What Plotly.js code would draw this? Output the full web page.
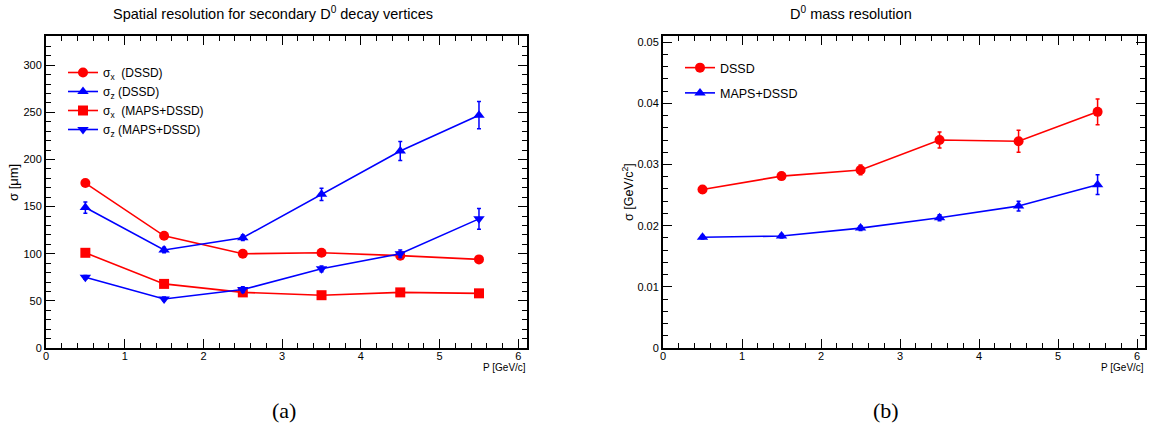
<!DOCTYPE html>
<html>
<head>
<meta charset="utf-8">
<script src="https://cdn.plot.ly/plotly-3.0.1.min.js"></script>
<style>html,body{margin:0;padding:0;background:#fff;}#chart{width:1151px;height:429px;}</style>
</head>
<body>
<div id="chart"></div>
<script>
// ---- data (a): spatial resolution [um] vs P [GeV/c]
var momentum = [0.5, 1.5, 2.5, 3.5, 4.5, 5.5];
var sigmaX_DSSD = [175, 119, 100, 101, 98, 94];
var sigmaX_DSSD_err = [3, 2, 2, 2, 3, 3];
var sigmaZ_DSSD = [149, 104, 117, 163, 209, 247];
var sigmaZ_DSSD_err = [6, 3, 3, 6.5, 10, 14.5];
var sigmaX_MAPS = [101, 68, 59, 56, 59, 58];
var sigmaX_MAPS_err = [2, 2, 2, 2, 2, 2];
var sigmaZ_MAPS = [75, 52, 62, 84, 100, 137];
var sigmaZ_MAPS_err = [2, 2, 3, 3, 4, 11];
// ---- data (b): D0 mass resolution [GeV/c^2] vs P
var mass_DSSD = [0.0259, 0.0281, 0.0291, 0.0340, 0.0338, 0.0386];
var mass_DSSD_err = [0.0006, 0.0004, 0.0008, 0.0013, 0.0018, 0.0021];
var mass_MAPS = [0.0181, 0.0183, 0.0196, 0.0213, 0.0232, 0.0267];
var mass_MAPS_err = [0.0003, 0.0003, 0.0004, 0.0005, 0.0008, 0.0016];

var RED = '#ff0000', BLUE = '#0000ff';
var FONT = 'Liberation Sans, Arial, Helvetica, sans-serif';
var W = 1151, H = 429;
function px(x){return x/W;}
function py(y){return 1 - y/H;}

function tr(x, y, err, color, symbol, name, xa, ya, legend, group){
  return {
    x: x, y: y, type: 'scatter', mode: 'lines+markers', name: name,
    xaxis: xa, yaxis: ya, legend: legend, legendgroup: group,
    line: {color: color, width: 1.6},
    marker: {color: color, symbol: symbol, size: 10},
    error_y: {type: 'data', array: err, visible: true, color: color, thickness: 1.5, width: 2}
  };
}

var data = [
  tr(momentum, sigmaX_DSSD, sigmaX_DSSD_err, RED, 'circle', 'σ<sub>x</sub>  (DSSD)', 'x', 'y', 'legend', 'a1'),
  tr(momentum, sigmaZ_DSSD, sigmaZ_DSSD_err, BLUE, 'triangle-up', 'σ<sub>z</sub> (DSSD)', 'x', 'y', 'legend', 'a2'),
  tr(momentum, sigmaX_MAPS, sigmaX_MAPS_err, RED, 'square', 'σ<sub>x</sub>  (MAPS+DSSD)', 'x', 'y', 'legend', 'a3'),
  tr(momentum, sigmaZ_MAPS, sigmaZ_MAPS_err, BLUE, 'triangle-down', 'σ<sub>z</sub> (MAPS+DSSD)', 'x', 'y', 'legend', 'a4'),
  tr(momentum, mass_DSSD, mass_DSSD_err, RED, 'circle', 'DSSD', 'x2', 'y2', 'legend2', 'b1'),
  tr(momentum, mass_MAPS, mass_MAPS_err, BLUE, 'triangle-up', 'MAPS+DSSD', 'x2', 'y2', 'legend2', 'b2')
];

function axis(domain, range, dtick, minorDtick, anchor, standoff){
  return {
    domain: domain, range: range, anchor: anchor, dtick: dtick, tick0: 0,
    ticks: 'inside', ticklen: 9, tickwidth: 1, tickcolor: '#000',
    minor: {dtick: minorDtick, ticks: 'inside', ticklen: 5, tickwidth: 1, tickcolor: '#000'},
    showline: true, linewidth: 2, linecolor: '#000', mirror: 'allticks',
    showgrid: false, zeroline: false, ticklabelstandoff: standoff,
    tickfont: {family: FONT, size: 11, color: '#000'}
  };
}

var ydom = [py(348), py(36)];
var layout = {
  width: W, height: H,
  margin: {l: 0, r: 0, t: 0, b: 0},
  paper_bgcolor: '#fff', plot_bgcolor: '#fff',
  showlegend: true,
  font: {family: FONT, color: '#000'},
  xaxis: axis([px(46), px(527)], [0, 6.11], 1, 0.2, 'y', -3),
  yaxis: axis(ydom, [0, 331], 50, 10, 'x', 0),
  xaxis2: axis([px(663), px(1145)], [0, 6.1], 1, 0.2, 'y2', -3),
  yaxis2: axis(ydom, [0, 0.051], 0.01, 0.002, 'x2', 0),
  legend: {x: px(63), y: py(58), xanchor: 'left', yanchor: 'top', bgcolor: 'rgba(0,0,0,0)',
           font: {family: FONT, size: 12, color: '#000'}, itemwidth: 30, traceorder: 'normal', tracegroupgap: 0},
  legend2: {x: px(680), y: py(53), xanchor: 'left', yanchor: 'top', bgcolor: 'rgba(0,0,0,0)',
           font: {family: FONT, size: 12.5, color: '#000'}, itemwidth: 30, traceorder: 'grouped', tracegroupgap: 6},
  annotations: [
    {text: 'Spatial resolution for secondary D<sup>0</sup> decay vertices', x: px(111), y: py(13), xref: 'paper', yref: 'paper',
     xanchor: 'left', yanchor: 'middle', showarrow: false, font: {family: FONT, size: 14.5, color: '#000'}},
    {text: 'D<sup>0</sup> mass resolution', x: px(788), y: py(13), xref: 'paper', yref: 'paper',
     xanchor: 'left', yanchor: 'middle', showarrow: false, font: {family: FONT, size: 14.5, color: '#000'}},
    {text: 'σ [μm]', x: px(13), y: py(183), xref: 'paper', yref: 'paper', textangle: -90,
     xanchor: 'center', yanchor: 'middle', showarrow: false, font: {family: FONT, size: 13, color: '#000'}},
    {text: 'σ [GeV/c<sup>2</sup>]', x: px(628), y: py(192), xref: 'paper', yref: 'paper', textangle: -90,
     xanchor: 'center', yanchor: 'middle', showarrow: false, font: {family: FONT, size: 12.5, color: '#000'}},
    {text: 'P [GeV/c]', x: px(528), y: py(367), xref: 'paper', yref: 'paper',
     xanchor: 'right', yanchor: 'middle', showarrow: false, font: {family: FONT, size: 10, color: '#000'}},
    {text: 'P [GeV/c]', x: px(1146), y: py(367), xref: 'paper', yref: 'paper',
     xanchor: 'right', yanchor: 'middle', showarrow: false, font: {family: FONT, size: 10, color: '#000'}},
    {text: '(a)', x: px(284), y: py(410), xref: 'paper', yref: 'paper',
     xanchor: 'center', yanchor: 'middle', showarrow: false, font: {family: 'Liberation Serif, Times New Roman, serif', size: 22, color: '#000'}},
    {text: '(b)', x: px(886), y: py(410), xref: 'paper', yref: 'paper',
     xanchor: 'center', yanchor: 'middle', showarrow: false, font: {family: 'Liberation Serif, Times New Roman, serif', size: 22, color: '#000'}}
  ]
};

Plotly.newPlot('chart', data, layout, {displayModeBar: false, staticPlot: true});
</script>
</body>
</html>
